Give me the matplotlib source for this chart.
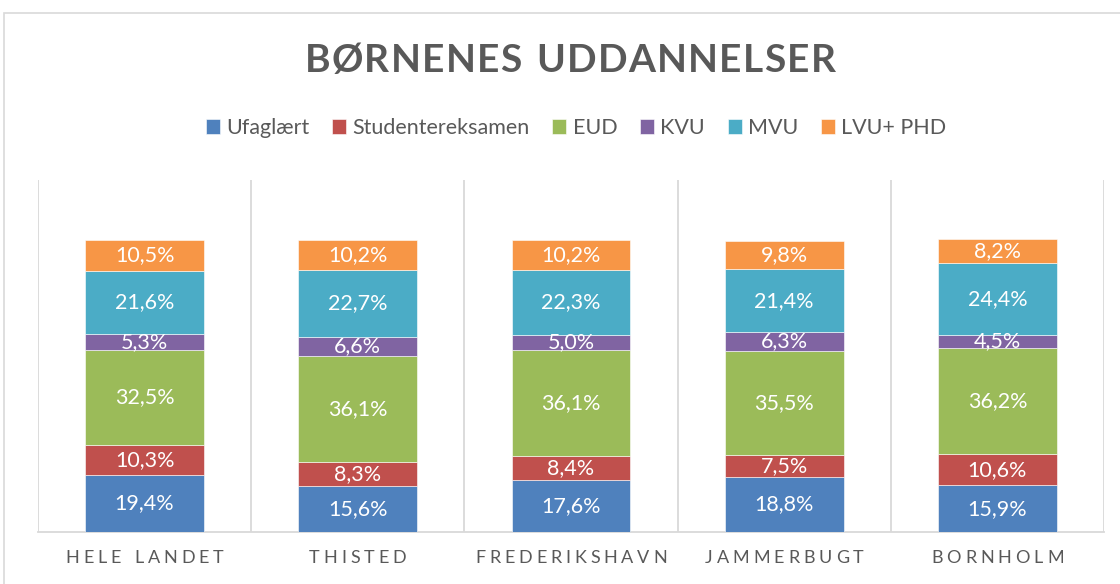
import matplotlib
matplotlib.use("Agg")
import matplotlib.pyplot as plt
from matplotlib.patches import Rectangle
import numpy as np

plt.rcParams['font.family'] = ['Lato', 'DejaVu Sans']

title = "BØRNENES UDDANNELSER"
categories = ["HELE LANDET", "THISTED", "FREDERIKSHAVN", "JAMMERBUGT", "BORNHOLM"]
series_names = ["Ufaglært", "Studentereksamen", "EUD", "KVU", "MVU", "LVU+ PHD"]
ufaglaert = [19.4, 15.6, 17.6, 18.8, 15.9]
student = [10.3, 8.3, 8.4, 7.5, 10.6]
eud = [32.5, 36.1, 36.1, 35.5, 36.2]
kvu = [5.3, 6.6, 5.0, 6.3, 4.5]
mvu = [21.6, 22.7, 22.3, 21.4, 24.4]
lvu_phd = [10.5, 10.2, 10.2, 9.8, 8.2]
series_values = [ufaglaert, student, eud, kvu, mvu, lvu_phd]
colors = ["#4F81BD", "#C0504D", "#9BBB59", "#8064A2", "#4BACC6", "#F79646"]

W, H = 1120, 584
fig = plt.figure(figsize=(W / 100, H / 100), dpi=100)
grey_text = "#595959"
grid_col = "#D9D9D9"

# outer chart frame
fig.patches.append(Rectangle((4 / W, -0.1), 1.2, (H - 13) / H + 0.1, transform=fig.transFigure,
                             fill=False, edgecolor=grid_col, linewidth=1.2))

ax = fig.add_axes([38 / W, 52 / H, (1104 - 38) / W, (532 - 180) / H])
x = np.arange(len(categories))
bottom = np.zeros(len(categories))
bar_w = 0.558
for name, vals, col in zip(series_names, series_values, colors):
    vals = np.array(vals)
    ax.bar(x, vals, bar_w, bottom=bottom, color=col, label=name,
           edgecolor="white", linewidth=0.4, zorder=3)
    for xi, b, v in zip(x, bottom, vals):
        ax.text(xi, b + v / 2, f"{v:.1f}%".replace(".", ","), ha="center", va="center",
                color="white", fontsize=15.5, zorder=4)
    bottom += vals

ax.set_xlim(-0.5, len(categories) - 0.5)
ax.set_ylim(0, 120)
ax.set_yticks([])
ax.set_xticks([])
for s in ["top", "right", "left"]:
    ax.spines[s].set_visible(False)
ax.spines["bottom"].set_color(grid_col)
ax.spines["bottom"].set_linewidth(1.3)
for k in range(len(categories) + 1):
    ax.axvline(k - 0.5, color=grid_col, linewidth=1.3, zorder=1)

renderer = fig.canvas.get_renderer()


def spaced_text(xc, yc, s, spacing, **kw):
    """Draw s centred at (xc, yc) in pixel coords with extra spacing between letters."""
    widths = []
    for ch in s:
        if ch == " ":
            t = fig.text(0, 0, "n", **kw)
            w = t.get_window_extent(renderer).width * 0.55
        else:
            t = fig.text(0, 0, ch, **kw)
            w = t.get_window_extent(renderer).width
        t.remove()
        widths.append(w)
    total = sum(widths) + spacing * (len(s) - 1)
    xp = xc - total / 2
    for ch, w in zip(s, widths):
        if ch != " ":
            fig.text(xp / W, 1 - yc / H, ch, ha="left", va="center", **kw)
        xp += w + spacing


spaced_text(570, 61, title, 1.3, fontsize=28, fontweight="bold", color=grey_text)

cat_w = (1104 - 38) / len(categories)
for i, c in enumerate(categories):
    spaced_text(38 + cat_w * (i + 0.5), 558, c, 3.9, fontsize=13, color=grey_text)

handles, labels = ax.get_legend_handles_labels()
fig.legend(handles, labels, loc="center", bbox_to_anchor=(576 / W, 1 - 128 / H), ncol=6,
           frameon=False, fontsize=15.5, handlelength=0.65, handleheight=0.65,
           handletextpad=0.3, columnspacing=1.05, labelcolor=grey_text)

fig.savefig("out.png", dpi=100, facecolor="white")
